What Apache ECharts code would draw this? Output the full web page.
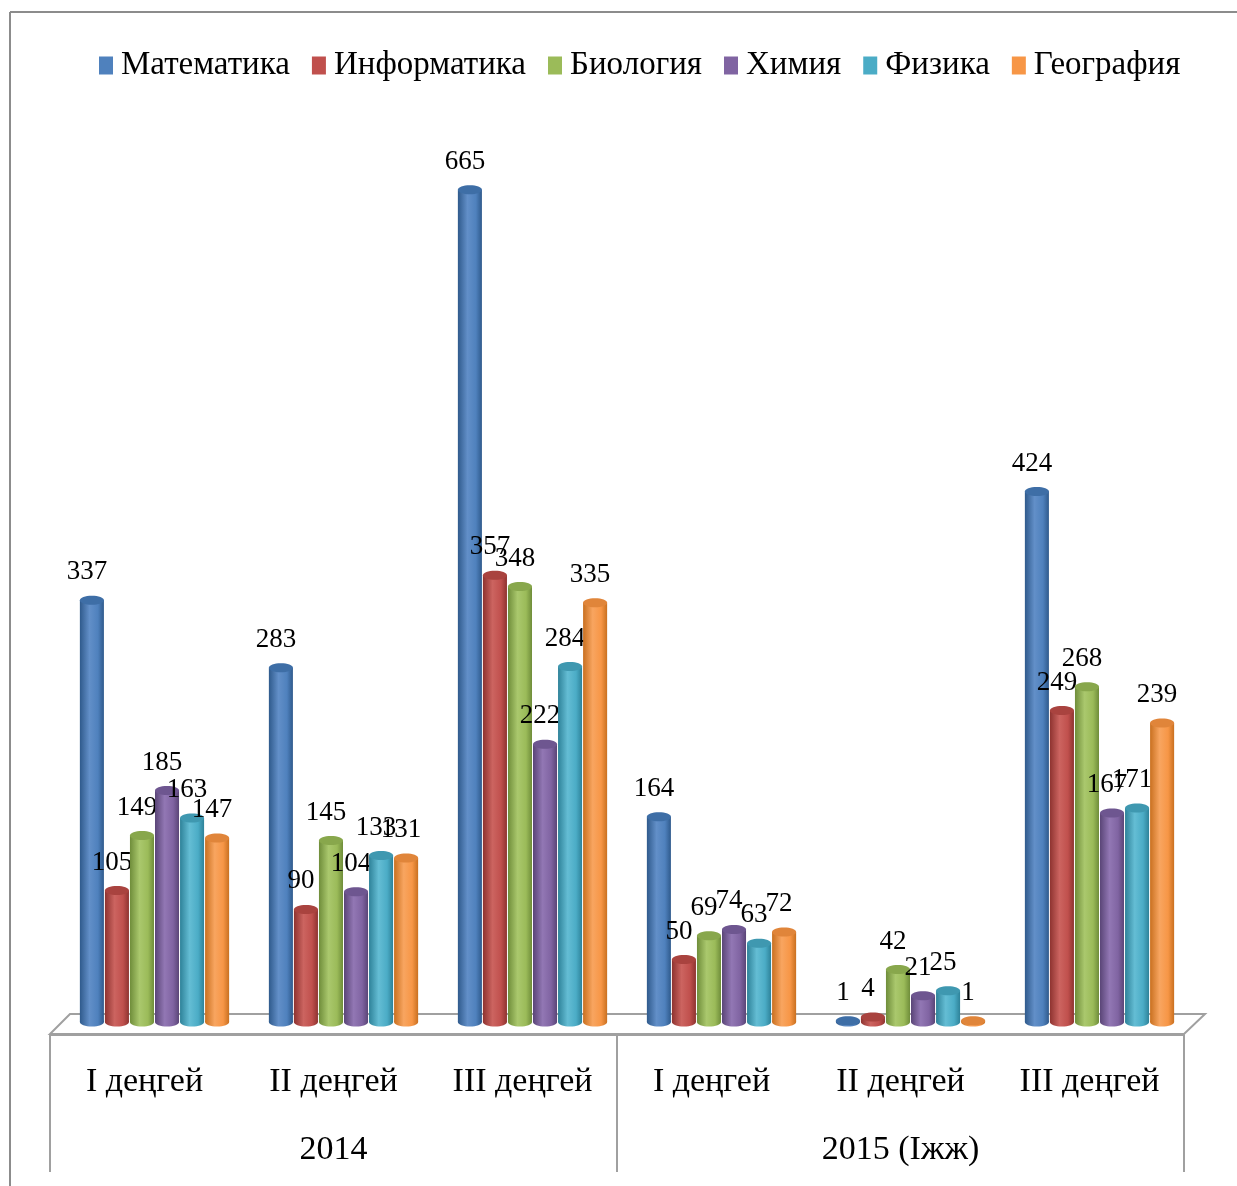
<!DOCTYPE html>
<html>
<head>
<meta charset="utf-8">
<script src="https://cdn.jsdelivr.net/npm/echarts@6/dist/echarts.min.js"></script>
<style>html,body{margin:0;padding:0;background:#fff;}#c{width:1237px;height:1186px;}</style>
</head>
<body>
<div id="c"></div>
<script>
// ---- data ----
var levels = ['I деңгей', 'II деңгей', 'III деңгей', 'I деңгей', 'II деңгей', 'III деңгей'];
var years = ['2014', '2015 (Іжж)'];
var subjects = ['Математика', 'Информатика', 'Биология', 'Химия', 'Физика', 'География'];
var math = [337, 283, 665, 164, 1, 424];
var informatics = [105, 90, 357, 50, 4, 249];
var biology = [149, 145, 348, 69, 42, 268];
var chemistry = [185, 104, 222, 74, 21, 167];
var physics = [163, 133, 284, 63, 25, 171];
var geography = [147, 131, 335, 72, 1, 239];
var seriesValues = [math, informatics, biology, chemistry, physics, geography];

// ---- styles ----
var colors = ['#4F81BD', '#C0504D', '#9BBB59', '#8064A2', '#4BACC6', '#F79646'];
var darks  = ['#2f5a8c', '#8e3330', '#6f8d3a', '#5a4577', '#2e8299', '#c97020'];
var lights = ['#628fc8', '#cc6460', '#aac86d', '#9277b4', '#64bdd4', '#f8a560'];
var tops   = ['#3e6ea6', '#a9433f', '#88a74c', '#6e5690', '#3f98b0', '#e0853a'];
var FONT = '"Liberation Serif", "DejaVu Serif", serif';
var DEPTH = 10;
var GROUP_FRAC = 0.795;

function makeRender(si) {
  return function (params, api) {
    var idx = api.value(0);
    var val = api.value(1);
    var base = api.coord([idx, 0]);
    var top = api.coord([idx, val]);
    var band = api.size([1, 0])[0];
    var bw = band * GROUP_FRAC / 6;
    var x0 = base[0] - 3 * bw + si * bw + DEPTH;
    var cx = x0 + bw / 2;
    var rx = bw / 2 - 0.5;
    var ry = 4.5;
    var grad = new echarts.graphic.LinearGradient(0, 0, 1, 0, [
      {offset: 0, color: darks[si]},
      {offset: 0.4, color: lights[si]},
      {offset: 0.75, color: colors[si]},
      {offset: 1, color: darks[si]}
    ]);
    return {
      type: 'group',
      children: [
        {type: 'ellipse', shape: {cx: cx, cy: base[1], rx: rx, ry: ry}, style: {fill: grad}},
        {type: 'rect', shape: {x: x0 + 0.5, y: top[1], width: bw - 1, height: base[1] - top[1]}, style: {fill: grad}},
        {type: 'ellipse', shape: {cx: cx, cy: top[1], rx: rx, ry: ry}, style: {fill: tops[si]}},
        {type: 'text', x: cx - 5, y: top[1] - 28, style: {
          text: String(val), fill: '#000', font: '27px ' + FONT, align: 'center', verticalAlign: 'middle'}}
      ]
    };
  };
}

var series = subjects.map(function (name, si) {
  return {
    type: 'custom',
    name: name,
    xAxisIndex: 0,
    yAxisIndex: 0,
    itemStyle: {color: colors[si]},
    renderItem: makeRender(si),
    encode: {x: 0, y: 1},
    data: seriesValues[si].map(function (v, i) { return [i, v]; }),
    z: 3
  };
});

var chart = echarts.init(document.getElementById('c'));
chart.setOption({
  backgroundColor: '#fff',
  animation: false,
  legend: {
    top: 44,
    left: 94,
    itemWidth: 14,
    itemHeight: 18,
    itemGap: 22,
    icon: 'rect',
    textStyle: {fontFamily: FONT, fontSize: 33, color: '#000', padding: [0, 0, 0, 3]},
    data: subjects
  },
  grid: {left: 50, right: 53, top: 96, bottom: 164},
  xAxis: [
    {
      type: 'category', data: levels, position: 'bottom',
      axisLine: {show: false}, axisTick: {show: false},
      axisLabel: {margin: 43, fontFamily: FONT, fontSize: 34, color: '#000'}
    },
    {
      type: 'category', data: years, position: 'bottom', offset: 13,
      axisLine: {show: true, lineStyle: {color: '#a0a0a0', width: 2}},
      axisTick: {show: true, length: 137, lineStyle: {color: '#a0a0a0', width: 2}},
      axisLabel: {margin: 98, fontFamily: FONT, fontSize: 34, color: '#000'}
    }
  ],
  yAxis: {type: 'value', min: 0, max: 740, show: false, splitLine: {show: false}},
  graphic: [
    {type: 'line', shape: {x1: 10, y1: 12, x2: 1237, y2: 12}, style: {stroke: '#8c8c8c', lineWidth: 2}},
    {type: 'line', shape: {x1: 10, y1: 12, x2: 10, y2: 1186}, style: {stroke: '#8c8c8c', lineWidth: 2}},
    {type: 'polygon', z: 0, shape: {points: [[70, 1014], [1205, 1014], [1184, 1034], [50, 1034]]},
      style: {fill: '#fff', stroke: '#a0a0a0', lineWidth: 2}}
  ],
  series: series
});
</script>
</body>
</html>
